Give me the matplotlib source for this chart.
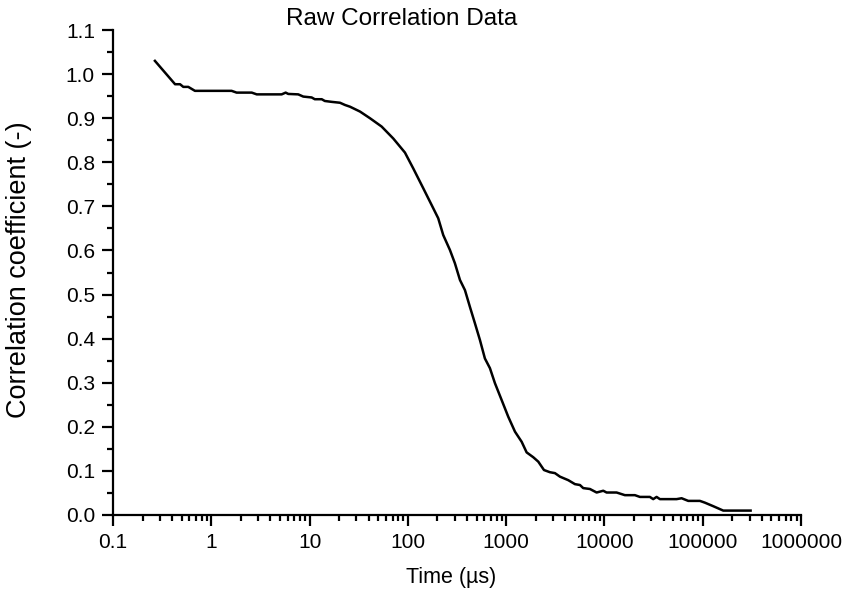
import matplotlib
matplotlib.use("Agg")
import matplotlib.pyplot as plt
from matplotlib.ticker import FixedLocator, LogLocator, MultipleLocator, FuncFormatter, NullFormatter

plt.rcParams['font.family'] = ['Liberation Sans', 'DejaVu Sans']

time_us = [0.267, 0.428, 0.481, 0.519, 0.583, 0.682, 1.61, 1.81, 2.58, 2.90,
           5.20, 5.71, 6.07, 7.67, 8.63, 10.5, 11.3, 13.3, 14.3, 16.8,
           20.4, 22.9, 25.8, 32.6, 41.1, 54.1, 71.0, 93.4, 113.5, 143.5,
           174.6, 203.7, 229, 268, 301, 339, 381, 428, 481, 541,
           608, 684, 769, 899, 1050, 1230, 1439, 1616, 1888, 2123,
           2426, 2792, 3136, 3526, 4285, 5012, 5636, 6085, 7118, 8330,
           9730, 10520, 13300, 16150, 20420, 22960, 29000, 31350, 33950, 36700,
           54200, 61000, 71250, 93600, 105200, 127900, 161800, 307000]
corr = [1.030, 0.977, 0.977, 0.971, 0.971, 0.962, 0.962, 0.958, 0.958, 0.954,
        0.954, 0.958, 0.955, 0.954, 0.949, 0.947, 0.943, 0.943, 0.939, 0.937,
        0.935, 0.930, 0.926, 0.915, 0.900, 0.881, 0.854, 0.822, 0.786, 0.741,
        0.703, 0.673, 0.635, 0.601, 0.571, 0.533, 0.510, 0.472, 0.435, 0.397,
        0.355, 0.333, 0.299, 0.261, 0.223, 0.189, 0.166, 0.142, 0.131, 0.121,
        0.102, 0.097, 0.095, 0.087, 0.079, 0.070, 0.068, 0.061, 0.059, 0.051,
        0.055, 0.051, 0.051, 0.045, 0.045, 0.041, 0.041, 0.036, 0.041, 0.036,
        0.036, 0.038, 0.032, 0.032, 0.028, 0.020, 0.010, 0.010]

x_ticks = [0.1, 1, 10, 100, 1000, 10000, 100000, 1000000]
x_tick_labels = ["0.1", "1", "10", "100", "1000", "10000", "100000", "1000000"]
y_ticks = [0.0, 0.1, 0.2, 0.3, 0.4, 0.5, 0.6, 0.7, 0.8, 0.9, 1.0, 1.1]

W, H = 843, 592
fig = plt.figure(figsize=(W/100, H/100), dpi=100)
ax = fig.add_axes([113/W, 1 - 515/H, (801-113)/W, (515-30)/H])

ax.plot(time_us, corr, color='black', lw=1.8)

ax.set_xscale('log')
ax.set_xlim(0.1, 1000000)
ax.set_ylim(0.0, 1.1)

ax.xaxis.set_major_locator(FixedLocator(x_ticks))
ax.set_xticklabels(x_tick_labels)
ax.xaxis.set_minor_locator(LogLocator(base=10, subs=range(2, 10), numticks=20))
ax.xaxis.set_minor_formatter(NullFormatter())

ax.yaxis.set_major_locator(FixedLocator(y_ticks))
ax.yaxis.set_major_formatter(FuncFormatter(lambda v, p: f"{v:.1f}"))
ax.yaxis.set_minor_locator(MultipleLocator(0.05))

for s in ['top', 'right']:
    ax.spines[s].set_visible(False)
for s in ['left', 'bottom']:
    ax.spines[s].set_linewidth(1.6)

ax.tick_params(which='major', direction='out', length=8, width=1.6, labelsize=15, pad=5)
ax.tick_params(which='minor', direction='out', length=4, width=1.6)

fig.text(451/W, 1 - 577/H, "Time (µs)", ha='center', va='center', fontsize=15.5)
fig.text(19/W, 1 - 270/H, "Correlation coefficient (-)", ha='center', va='center',
         rotation=90, fontsize=19.5)
fig.text(402/W, 1 - 19/H, "Raw Correlation Data", ha='center', va='center', fontsize=17.5)

fig.savefig("out.png", dpi=100, facecolor='white')
